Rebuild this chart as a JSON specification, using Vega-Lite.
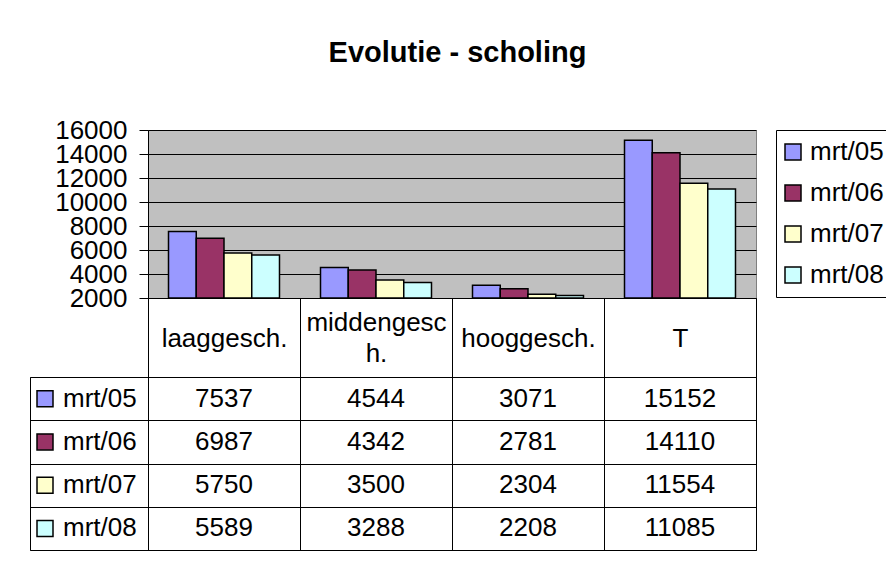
{
  "$schema": "https://vega.github.io/schema/vega-lite/v6.json",
  "padding": {"left": 29, "top": 38, "right": 0, "bottom": 5},
  "background": "white",
  "title": {"text": "Evolutie - scholing", "fontSize": 29, "fontWeight": "bold", "font": "Liberation Sans", "color": "black", "anchor": "middle", "offset": 49, "dx": -4},
  "datasets": {
    "vals": [
      {"cat": "laaggesch.", "series": "mrt/05", "value": 7537},
      {"cat": "laaggesch.", "series": "mrt/06", "value": 6987},
      {"cat": "laaggesch.", "series": "mrt/07", "value": 5750},
      {"cat": "laaggesch.", "series": "mrt/08", "value": 5589},
      {"cat": "middengesch.", "series": "mrt/05", "value": 4544},
      {"cat": "middengesch.", "series": "mrt/06", "value": 4342},
      {"cat": "middengesch.", "series": "mrt/07", "value": 3500},
      {"cat": "middengesch.", "series": "mrt/08", "value": 3288},
      {"cat": "hooggesch.", "series": "mrt/05", "value": 3071},
      {"cat": "hooggesch.", "series": "mrt/06", "value": 2781},
      {"cat": "hooggesch.", "series": "mrt/07", "value": 2304},
      {"cat": "hooggesch.", "series": "mrt/08", "value": 2208},
      {"cat": "T", "series": "mrt/05", "value": 15152},
      {"cat": "T", "series": "mrt/06", "value": 14110},
      {"cat": "T", "series": "mrt/07", "value": 11554},
      {"cat": "T", "series": "mrt/08", "value": 11085}
    ],
    "keys": [
      {"series": "mrt/05"},
      {"series": "mrt/06"},
      {"series": "mrt/07"},
      {"series": "mrt/08"}
    ]
  },
  "columns": 2,
  "spacing": {"row": 79, "column": 0},
  "bounds": "flush",
  "concat": [
    {
      "width": 118,
      "height": 168,
      "data": {"name": "keys"},
      "view": {"stroke": null},
      "mark": {"type": "text"},
      "encoding": {}
    },
    {
      "width": 608,
      "height": 168,
      "data": {"name": "vals"},
      "view": {"fill": "#C0C0C0", "stroke": "#808080"},
      "mark": {"type": "bar", "stroke": "black", "strokeWidth": 1.5},
      "encoding": {
        "x": {
          "field": "cat", "type": "nominal", "sort": null,
          "scale": {"paddingInner": 0, "paddingOuter": 0},
          "axis": {
            "title": null, "tickBand": "extent", "tickSize": 79, "tickColor": "black", "tickWidth": 1,
            "domainColor": "black", "labelAngle": 0, "labelFontSize": 26, "labelColor": "black",
            "labelBaseline": "middle",
            "labelPadding": {"condition": {"test": "datum.label == 'middengesch.'", "value": -55}, "value": -39},
            "labelLineHeight": 31,
            "labelExpr": "datum.label == 'middengesch.' ? ['middengesc', 'h.'] : datum.label",
            "grid": false
          }
        },
        "xOffset": {"field": "series", "type": "nominal", "sort": null, "scale": {"paddingInner": 0, "paddingOuter": 0.739}},
        "y": {
          "field": "value", "type": "quantitative",
          "scale": {"domain": [2000, 16000], "zero": false, "nice": false},
          "axis": {
            "title": null, "values": [2000, 4000, 6000, 8000, 10000, 12000, 14000, 16000],
            "tickSize": 9, "tickColor": "black", "domainColor": "black",
            "labelFontSize": 26, "labelColor": "black", "labelPadding": 12, "labelOverlap": false,
            "format": "d", "grid": true, "gridColor": "black", "gridWidth": 1
          }
        },
        "y2": {"datum": 2000},
        "fill": {
          "field": "series", "type": "nominal", "sort": null,
          "scale": {"domain": ["mrt/05", "mrt/06", "mrt/07", "mrt/08"], "range": ["#9999FF", "#993366", "#FFFFCC", "#CCFFFF"]},
          "legend": {
            "title": null, "orient": "right", "offset": 20, "strokeColor": "black", "padding": 9,
            "rowPadding": 15, "symbolType": "square", "symbolSize": 256, "symbolStrokeColor": "black",
            "symbolStrokeWidth": 1.5, "symbolOffset": -5, "labelFontSize": 26, "labelColor": "black", "labelOffset": 4
          }
        }
      }
    },
    {
      "width": 118,
      "height": 173,
      "data": {"name": "keys"},
      "view": {"stroke": "black"},
      "encoding": {
        "y": {
          "field": "series", "type": "nominal", "sort": null,
          "scale": {"paddingInner": 0, "paddingOuter": 0},
          "axis": null
        }
      },
      "layer": [
        {
          "mark": {"type": "point", "shape": "square", "filled": true, "size": 256, "stroke": "black", "strokeWidth": 1.5, "opacity": 1},
          "encoding": {
            "x": {"datum": "swatch", "type": "nominal", "scale": {"type": "point", "domain": ["swatch", "label"], "range": [15, 33], "padding": 0}, "axis": null},
            "fill": {
              "field": "series", "type": "nominal", "sort": null,
              "scale": {"domain": ["mrt/05", "mrt/06", "mrt/07", "mrt/08"], "range": ["#9999FF", "#993366", "#FFFFCC", "#CCFFFF"]},
              "legend": null
            }
          }
        },
        {
          "mark": {"type": "text", "align": "left", "baseline": "middle", "fontSize": 26, "color": "black"},
          "encoding": {
            "x": {"datum": "label", "type": "nominal"},
            "text": {"field": "series"}
          }
        }
      ]
    },
    {
      "width": 608,
      "height": 173,
      "data": {"name": "vals"},
      "view": {"stroke": "black"},
      "mark": {"type": "text", "fontSize": 26, "color": "black", "baseline": "middle", "align": "center"},
      "encoding": {
        "x": {
          "field": "cat", "type": "nominal", "sort": null,
          "scale": {"paddingInner": 0, "paddingOuter": 0},
          "axis": {"title": null, "labels": false, "ticks": false, "domain": false, "grid": true, "gridColor": "black", "gridOpacity": 1, "tickBand": "extent"}
        },
        "y": {
          "field": "series", "type": "nominal", "sort": null,
          "scale": {"paddingInner": 0, "paddingOuter": 0},
          "axis": {"title": null, "labels": false, "ticks": true, "tickSize": 118, "tickColor": "black", "tickWidth": 1, "domain": false, "grid": true, "gridColor": "black", "gridOpacity": 1, "tickBand": "extent"}
        },
        "text": {"field": "value", "type": "quantitative", "format": "d"}
      }
    }
  ],
  "resolve": {
    "scale": {"x": "independent", "y": "independent", "fill": "independent", "xOffset": "independent"},
    "axis": {"x": "independent", "y": "independent"},
    "legend": {"fill": "independent"}
  },
  "config": {
    "font": "Liberation Sans",
    "axis": {"labelFont": "Liberation Sans"},
    "legend": {"labelFont": "Liberation Sans"},
    "text": {"font": "Liberation Sans"}
  }
}
